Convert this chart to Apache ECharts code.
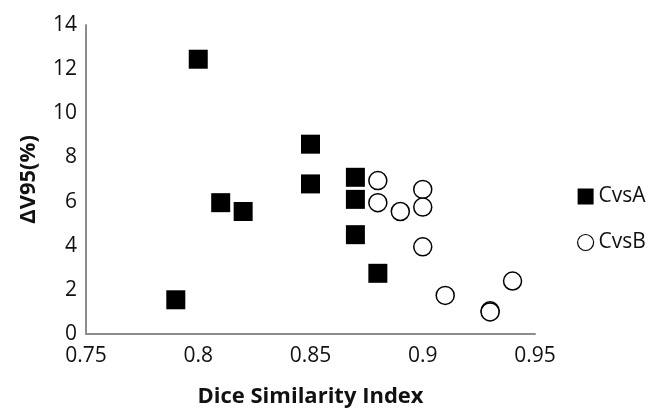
<!DOCTYPE html>
<html>
<head>
<meta charset="utf-8">
<script src="https://cdn.jsdelivr.net/npm/echarts@6/dist/echarts.min.js"></script>
<style>html,body{margin:0;padding:0;background:#fff}#c{width:656px;height:410px}</style>
</head>
<body>
<div id="c"></div>
<script>
const seriesNames = ['CvsA', 'CvsB'];
const cvsA = [[0.79,1.55],[0.80,12.45],[0.81,5.95],[0.82,5.55],[0.85,8.6],[0.85,6.8],[0.87,7.1],[0.87,6.1],[0.87,4.5],[0.88,2.75]];
const cvsB = [[0.88,6.95],[0.88,5.95],[0.89,5.55],[0.90,6.55],[0.90,5.75],[0.90,3.95],[0.91,1.75],[0.93,1.05],[0.93,1.0],[0.94,2.4]];
const xTitle = 'Dice Similarity Index';
const yTitle = 'ΔV95(%)';

const font = '"Open Sans", "Liberation Sans", sans-serif';
const chart = echarts.init(document.getElementById('c'), null, {renderer:'canvas'});
chart.setOption({
  animation:false,
  backgroundColor:'#fff',
  grid:{left:86,right:121,top:25,bottom:76,outerBoundsMode:'none',containLabel:false},
  legend:{
    orient:'vertical', left:572, top:181, itemGap:25, itemWidth:16, itemHeight:16, itemTextGap:4,
    textStyle:{fontFamily:font,fontSize:21,color:'#111'},
    data:[
      {name:seriesNames[0],icon:'rect',itemStyle:{color:'#000',opacity:1}},
      {name:seriesNames[1],icon:'circle',itemStyle:{color:'#fff',borderColor:'#000',borderWidth:1.2}}
    ]
  },
  xAxis:{
    type:'value', min:0.75, max:0.95, interval:0.05,
    name:xTitle, nameLocation:'middle', nameGap:52,
    nameTextStyle:{fontFamily:font,fontSize:22,fontWeight:'bold',color:'#111'},
    axisLine:{lineStyle:{color:'#8c8c8c',width:2}},
    axisTick:{show:false}, splitLine:{show:false},
    axisLabel:{fontFamily:font,fontSize:21,color:'#111',margin:12,
      formatter:v=>String(parseFloat(v.toFixed(2)))}
  },
  yAxis:{
    type:'value', min:0, max:14, interval:2,
    name:yTitle, nameLocation:'middle', nameGap:46, nameRotate:90,
    nameTextStyle:{fontFamily:font,fontSize:22,fontWeight:'bold',color:'#111'},
    axisLine:{show:true,lineStyle:{color:'#8c8c8c',width:2}},
    axisTick:{show:false}, splitLine:{show:false},
    axisLabel:{fontFamily:font,fontSize:21,color:'#111',margin:9}
  },
  series:[
    {name:seriesNames[0],type:'scatter',data:cvsA,symbol:'rect',symbolSize:19,
     itemStyle:{color:'#000',opacity:1}},
    {name:seriesNames[1],type:'scatter',data:cvsB,symbol:'circle',symbolSize:18,
     itemStyle:{color:'#fff',borderColor:'#000',borderWidth:1.5,opacity:1}}
  ]
});
</script>
</body>
</html>
